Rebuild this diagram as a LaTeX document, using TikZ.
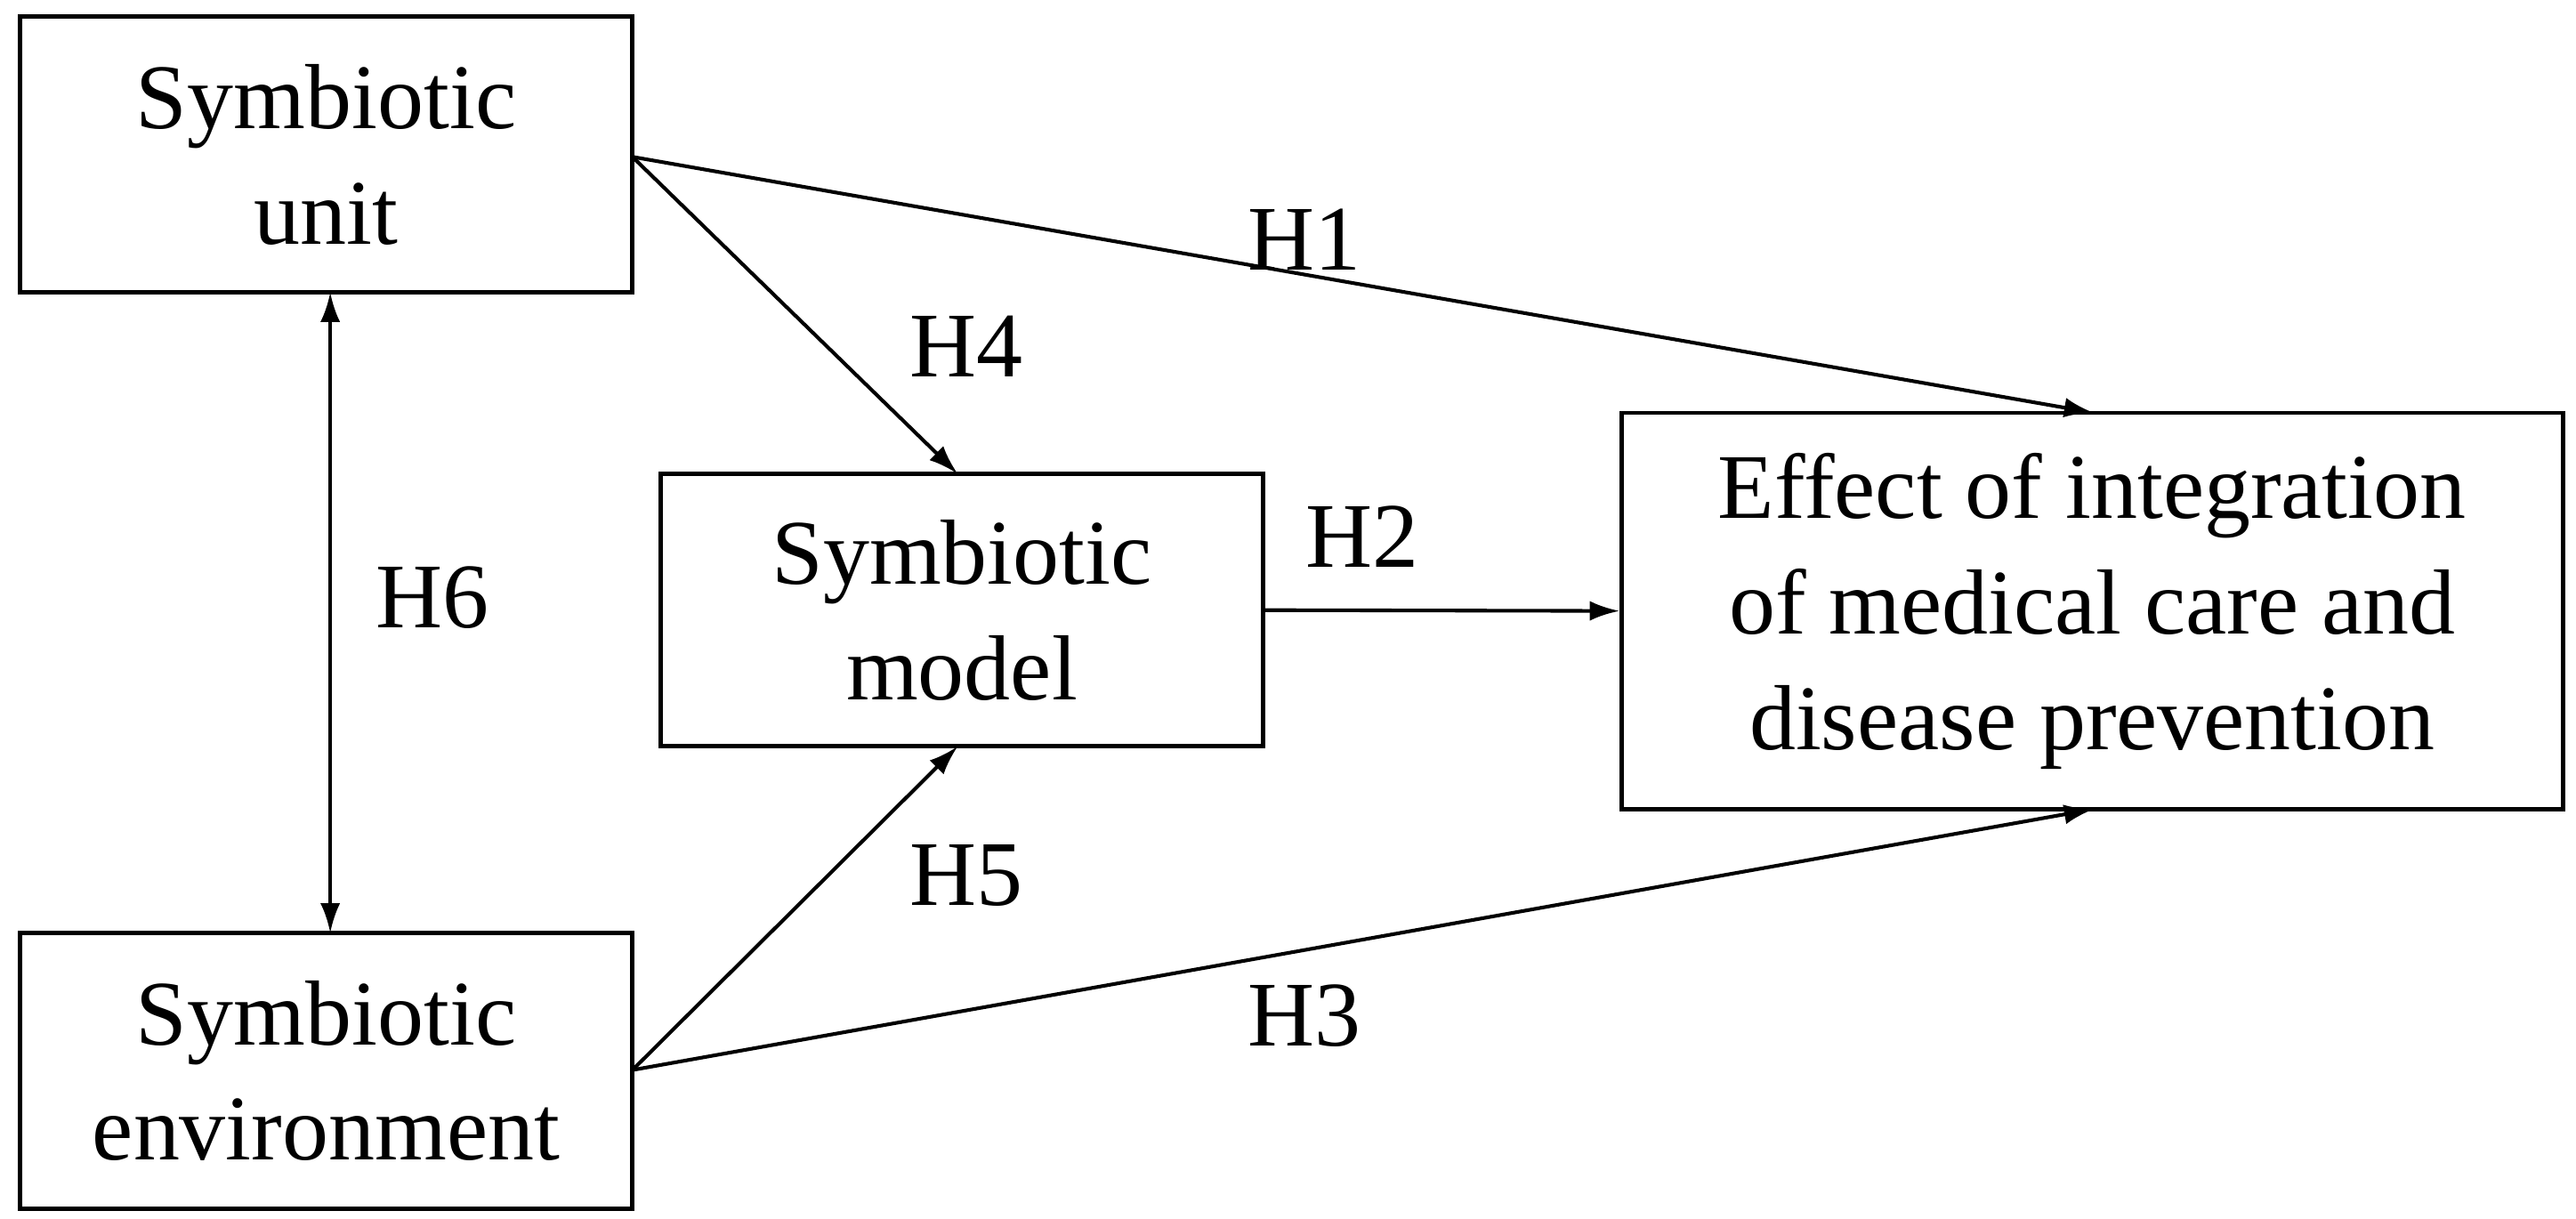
\documentclass[tikz,border=0pt]{standalone}
\usepackage{fontspec}
\setmainfont{Liberation Serif}
\usetikzlibrary{arrows.meta}
\begin{document}
\begin{tikzpicture}[x=1pt,y=-1pt,
  box/.style={draw,line width=2.5pt,inner sep=0pt,align=center,font=\fontsize{56}{70}\selectfont},
  lab/.style={font=\fontsize{56}{70}\selectfont},
  arr/.style={line width=2.2pt,-{Latex[length=18pt,width=12pt]}}]
\useasboundingbox (0,0) rectangle (1560,738);
\node[box,minimum width=371pt,minimum height=167pt] (u) at (197.5,93.5) {Symbiotic\\unit};
\node[box,minimum width=371pt,minimum height=167pt] (e) at (197.5,648.5) {Symbiotic\\environment};
\node[box,minimum width=365pt,minimum height=165pt] (m) at (582.5,369.5) {Symbiotic\\model};
\node[box,minimum width=570pt,minimum height=240pt] (f) at (1267,370) {Effect of integration\\of medical care and\\disease prevention};
\coordinate (ur) at (383,95);
\coordinate (er) at (383,648);
\coordinate (ft) at (1268,250);
\coordinate (fb) at (1268,490);
\coordinate (mt) at (580,287);
\coordinate (mb) at (580,452);
\coordinate (ub) at (200,177);
\coordinate (eb) at (200,565);
\draw[arr] (ur) -- (ft);
\draw[arr] (ur) -- (mt);
\draw[arr] (m.east) -- (f.west);
\draw[arr] (er) -- (mb);
\draw[arr] (er) -- (fb);
\draw[arr,{Latex[length=18pt,width=12pt]}-{Latex[length=18pt,width=12pt]}] (ub) -- (eb);
\node[lab] (h1) at (790,145) {H1};
\node[lab] (h4) at (585,210) {H4};
\node[lab] (h2) at (825,325) {H2};
\node[lab] (h6) at (262,362) {H6};
\node[lab] (h5) at (585,530) {H5};
\node[lab] (h3) at (790,615) {H3};
\end{tikzpicture}
\end{document}
